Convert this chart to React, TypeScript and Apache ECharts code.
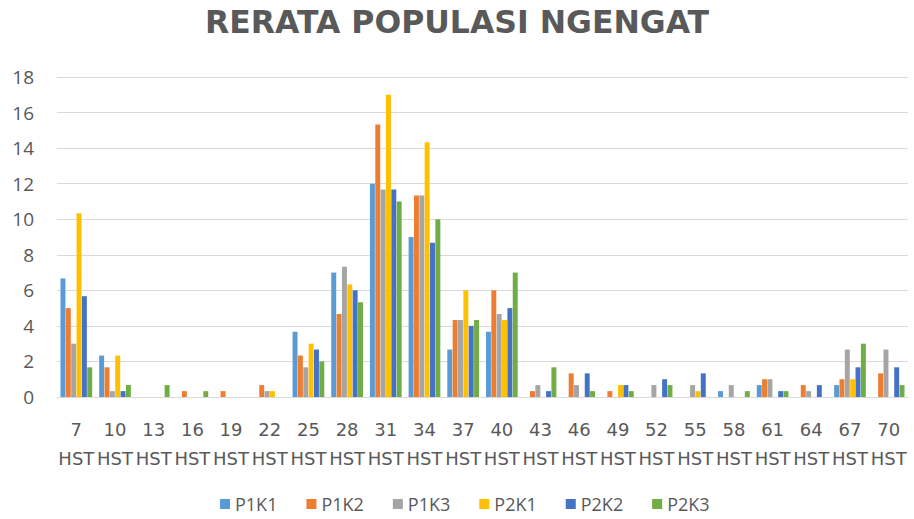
import React, { useEffect, useRef } from "react";
import * as echarts from "echarts";

const categories = ["7 HST","10 HST","13 HST","16 HST","19 HST","22 HST","25 HST","28 HST","31 HST","34 HST","37 HST","40 HST","43 HST","46 HST","49 HST","52 HST","55 HST","58 HST","61 HST","64 HST","67 HST","70 HST"];
const seriesNames = ["P1K1","P1K2","P1K3","P2K1","P2K2","P2K3"];
const colors = ["#5B9BD5","#ED7D31","#A5A5A5","#FFC000","#4472C4","#70AD47"];

const P1K1 = [6.67,2.33,0,0,0,0,3.67,7,12,9,2.67,3.67,0,0,0,0,0,0.33,0.67,0,0.67,0];
const P1K2 = [5,1.67,0,0.33,0.33,0.67,2.33,4.67,15.33,11.33,4.33,6,0.33,1.33,0.33,0,0,0,1,0.67,1,1.33];
const P1K3 = [3,0.33,0,0,0,0.33,1.67,7.33,11.67,11.33,4.33,4.67,0.67,0.67,0,0.67,0.67,0.67,1,0.33,2.67,2.67];
const P2K1 = [10.33,2.33,0,0,0,0.33,3,6.33,17,14.33,6,4.33,0,0,0.67,0,0.33,0,0,0,1,0];
const P2K2 = [5.67,0.33,0,0,0,0,2.67,6,11.67,8.67,4,5,0.33,1.33,0.67,1,1.33,0,0.33,0.67,1.67,1.67];
const P2K3 = [1.67,0.67,0.67,0.33,0,0,2,5.33,11,10,4.33,7,1.67,0.33,0.33,0.67,0,0.33,0.33,0,3,0.67];

const seriesData = [P1K1, P1K2, P1K3, P2K1, P2K2, P2K3];
const yTicks = { min: 0, max: 18, interval: 2 };
const titleText = "RERATA POPULASI NGENGAT";

export default function App() {
  const ref = useRef<HTMLDivElement>(null);
  useEffect(() => {
    if (!ref.current) return;
    const chart = echarts.init(ref.current, null, { renderer: "svg" });
    const font = "'Open Sans', sans-serif";
    chart.setOption({
      animation: false,
      backgroundColor: "#ffffff",
      title: {
        text: titleText,
        left: "center",
        top: 6,
        padding: 0,
        textStyle: { fontFamily: "'DejaVu Sans', sans-serif", fontWeight: "bold", fontSize: 31.5, color: "#595959" },
      },
      legend: {
        data: seriesNames,
        left: 220,
        top: 495,
        padding: 0,
        icon: "rect",
        itemWidth: 10,
        itemHeight: 10,
        itemGap: 29,
        textStyle: { fontFamily: font, fontSize: 18, lineHeight: 18, color: "#595959" },
      },
      grid: { left: 57, right: 6, top: 77, bottom: 122, containLabel: false },
      xAxis: {
        type: "category",
        data: categories,
        axisLine: { lineStyle: { color: "#d9d9d9", width: 1 } },
        axisTick: { show: false },
        axisLabel: {
          interval: 0,
          margin: 18,
          fontFamily: "'DejaVu Sans', sans-serif",
          fontSize: 18,
          color: "#595959",
          lineHeight: 29,
          formatter: (v: string) => v.replace(" ", "\n"),
        },
      },
      yAxis: {
        type: "value",
        min: yTicks.min,
        max: yTicks.max,
        interval: yTicks.interval,
        axisLine: { show: false },
        axisTick: { show: false },
        splitLine: { lineStyle: { color: "#d9d9d9", width: 1 } },
        axisLabel: { margin: 23, fontFamily: font, fontSize: 19, color: "#595959" },
      },
      series: seriesNames.map((name, i) => ({
        name,
        type: "bar",
        data: seriesData[i],
        itemStyle: { color: colors[i] },
        barGap: "8%",
        barCategoryGap: "18%",
      })),
    });
    return () => chart.dispose();
  }, []);
  return <div ref={ref} style={{ position: "absolute", left: 0, top: 0, width: 914, height: 519 }} />;
}
